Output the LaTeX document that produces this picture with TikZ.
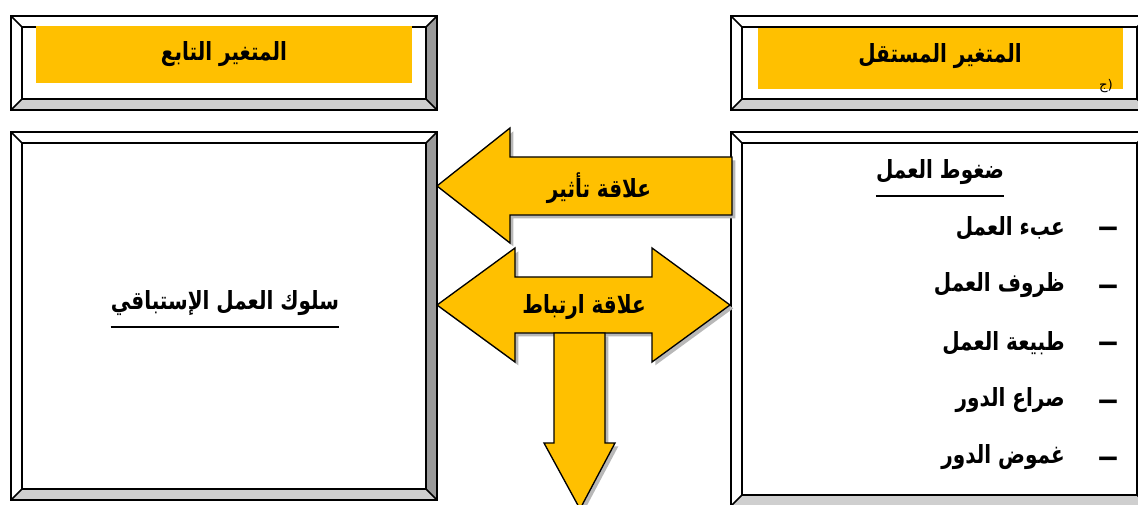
\documentclass[tikz,border=0pt]{standalone}
\usepackage{fontspec}
\usepackage{tikz}
\usetikzlibrary{shadows}
\newfontfamily\arabicfont[Script=Arabic]{DejaVu Sans}
\TeXXeTstate=1

\definecolor{gold}{HTML}{FFC000}
\definecolor{bevdark}{HTML}{9A9A9A}
\definecolor{bevlight}{HTML}{CFCFCF}

% Bevel inset (px)
\def\bev{11}

\tikzset{
  boxline/.style={draw=black, line width=1.1pt},
  blockarrow/.style={fill=gold, draw=black, line width=1pt, line join=miter,
    drop shadow={shadow xshift=2.5pt, shadow yshift=-2.5pt, fill=black!28, opacity=1}},
  artext/.style={font=\arabicfont\bfseries\fontsize{15}{18}\selectfont, inner sep=0pt,
    yscale=1.25, transform shape},
  dashmark/.style={font=\arabicfont\bfseries\fontsize{21}{21}\selectfont, inner sep=0pt,
    xscale=1.6, transform shape},
}

% Word-style bevel frame: outer corner (#1,#2), opposite corner (#3,#4)
\newcommand{\bevelbox}[4]{%
  \fill[white] (#1,#2) rectangle (#3,#4);
  \fill[bevdark] (#3,#2) -- (#3,#4) -- (#3-\bev,#4-\bev) -- (#3-\bev,#2+\bev) -- cycle;
  \fill[bevlight] (#1,#4) -- (#3,#4) -- (#3-\bev,#4-\bev) -- (#1+\bev,#4-\bev) -- cycle;
  \draw[boxline] (#1,#2) rectangle (#3,#4);
  \draw[boxline] (#1+\bev,#2+\bev) rectangle (#3-\bev,#4-\bev);
  \draw[boxline] (#1,#2) -- (#1+\bev,#2+\bev)
                 (#3,#2) -- (#3-\bev,#2+\bev)
                 (#1,#4) -- (#1+\bev,#4-\bev)
                 (#3,#4) -- (#3-\bev,#4-\bev);
}

\begin{document}
\begin{tikzpicture}[x=0.75pt, y=-0.75pt]

\useasboundingbox (0,0) rectangle (1138,505);
\clip (0,0) rectangle (1138,505);

% Frames
\bevelbox{11}{16}{437}{110}
\bevelbox{731}{16}{1148}{110}
\bevelbox{11}{132}{437}{500}
\bevelbox{731}{132}{1148}{506}

% Title bands
\fill[gold] (36,26) rectangle (412,83);
\fill[gold] (758,28) rectangle (1123,89);

\node[artext] (deptitle) at (224,54) {\beginR المتغير التابع\endR};
\node[artext] (indtitle) at (940,56) {\beginR المتغير المستقل\endR};
\node[font=\arabicfont\fontsize{10}{11}\selectfont, inner sep=0pt] (note) at (1106,86) {(ج};

% Independent variable
\node[artext] (stress) at (940,172) {\beginR ضغوط العمل\endR};
\draw[line width=1.3pt] (stress.west |- 0,196) -- (stress.east |- 0,196);

\node[artext, anchor=east] (load) at (1065,228) {\beginR عبء العمل\endR};
\node[artext, anchor=east] (cond) at (1065,285) {\beginR ظروف العمل\endR};
\node[artext, anchor=east] (nature) at (1065,343) {\beginR طبيعة العمل\endR};
\node[artext, anchor=east] (conflict) at (1065,400) {\beginR صراع الدور\endR};
\node[artext, anchor=east] (ambig) at (1065,457) {\beginR غموض الدور\endR};
\foreach \yy in {232,290,347,405,462}
  \node[dashmark] at (1108,\yy) {–};

% Dependent variable
\node[artext] (proact) at (225,303) {\beginR سلوك العمل الإستباقي\endR};
\draw[line width=1.3pt] (proact.west |- 0,327) -- (proact.east |- 0,327);

% Influence arrow
\path[blockarrow] (437,186) -- (510,128) -- (510,157) -- (732,157) -- (732,215)
  -- (510,215) -- (510,243) -- cycle;
\node[artext] (influence) at (599,188) {\beginR علاقة تأثير\endR};

% Correlation arrow
\path[blockarrow] (437,305) -- (515,248) -- (515,277) -- (652,277) -- (652,248)
  -- (730,305) -- (652,362) -- (652,333) -- (515,333) -- (515,362) -- cycle;
\path[blockarrow] (554,333) -- (605,333) -- (605,443) -- (615,443) -- (580,509)
  -- (544,443) -- (554,443) -- cycle;
\node[artext] (correl) at (584,307) {\beginR علاقة ارتباط\endR};

\end{tikzpicture}
\end{document}
